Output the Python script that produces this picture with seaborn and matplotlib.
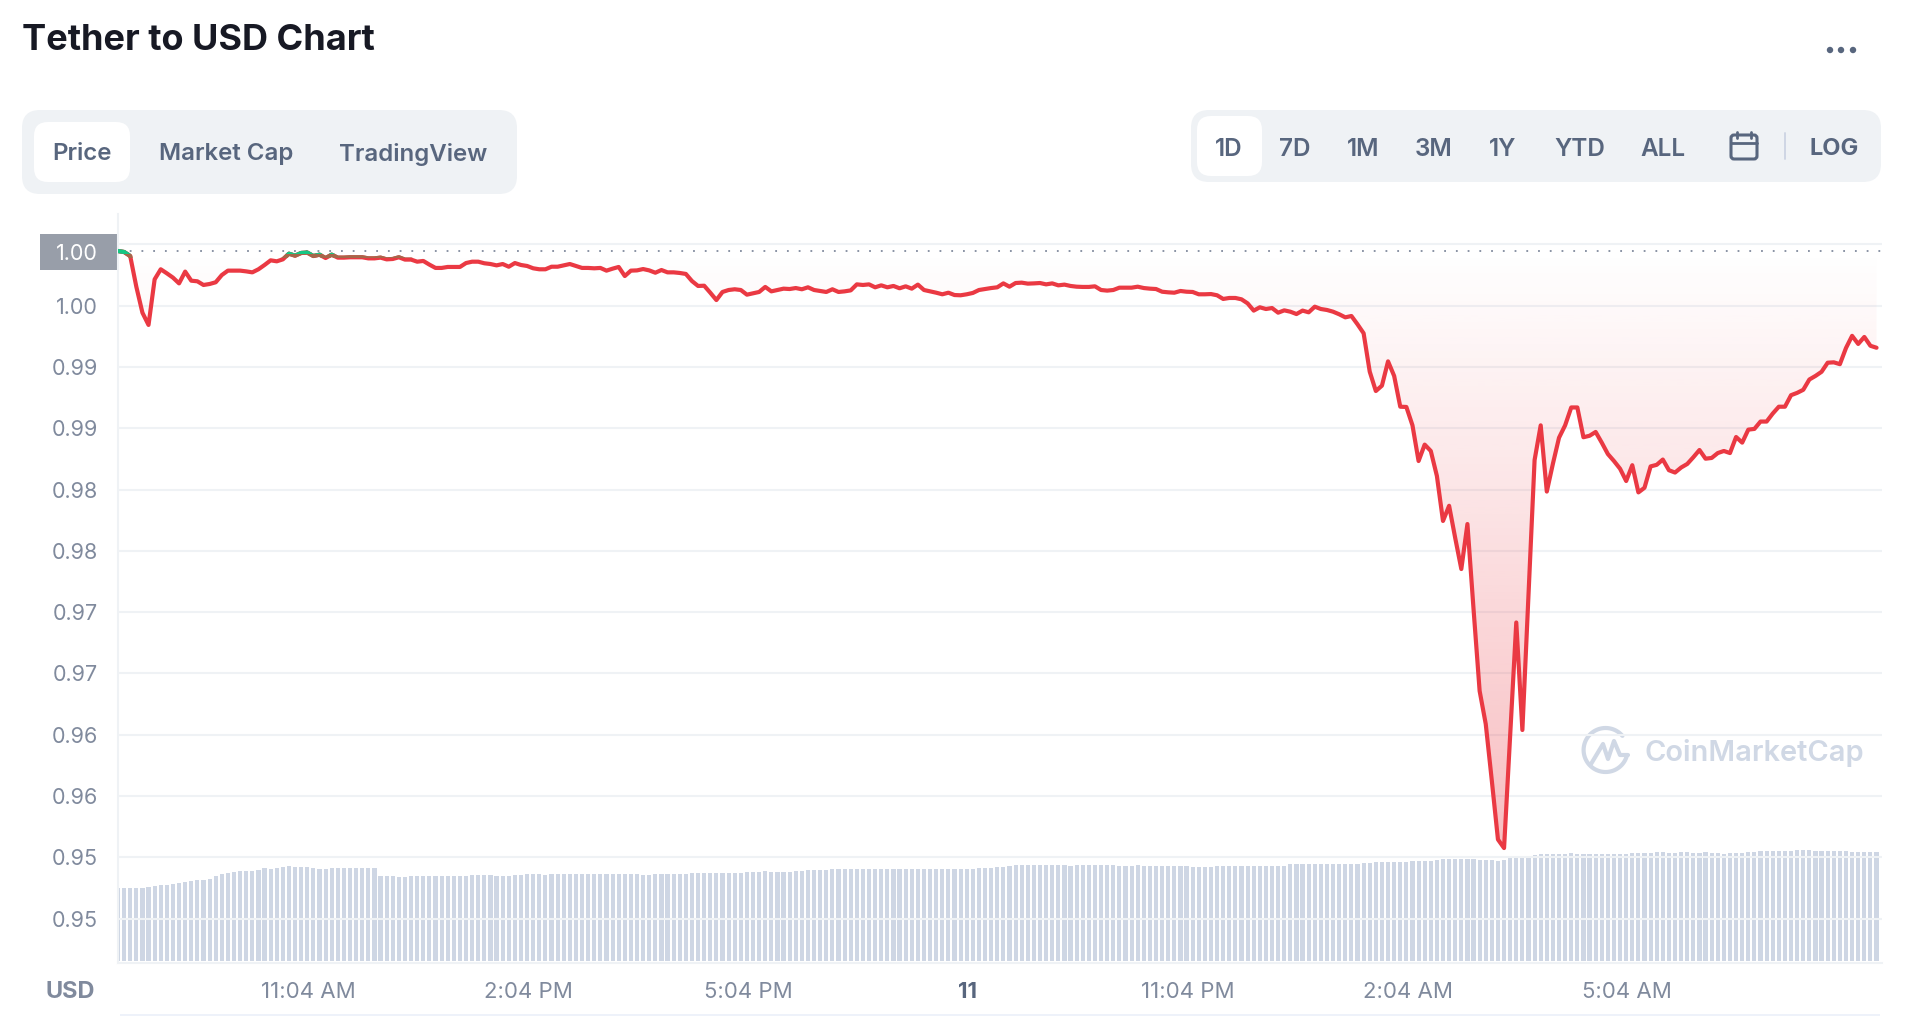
import numpy as np
import pandas as pd
import matplotlib
matplotlib.use("Agg")
import matplotlib.pyplot as plt
import seaborn as sns
from matplotlib.patches import FancyBboxPatch, Rectangle, Circle

# price, one value every 5 minutes
price = [
    0.99946, 0.99938, 0.99905, 0.99655, 0.99443, 0.99343, 0.99715, 0.99797, 0.99764, 0.99729, 0.99682, 0.99778,
    0.99704, 0.99699, 0.99669, 0.99677, 0.99691, 0.99750, 0.99786, 0.99786, 0.99786, 0.99780, 0.99772, 0.99797,
    0.99832, 0.99870, 0.99862, 0.99878, 0.99924, 0.99908, 0.99930, 0.99933, 0.99905, 0.99916, 0.99889, 0.99916,
    0.99892, 0.99892, 0.99895, 0.99895, 0.99895, 0.99886, 0.99886, 0.99892, 0.99878, 0.99881, 0.99895, 0.99876,
    0.99876, 0.99859, 0.99865, 0.99835, 0.99808, 0.99808, 0.99816, 0.99816, 0.99816, 0.99848, 0.99859, 0.99859,
    0.99846, 0.99840, 0.99829, 0.99840, 0.99818, 0.99848, 0.99832, 0.99824, 0.99805, 0.99797, 0.99797, 0.99818,
    0.99818, 0.99829, 0.99840, 0.99824, 0.99808, 0.99808, 0.99805, 0.99808, 0.99786, 0.99802, 0.99816, 0.99742,
    0.99786, 0.99788, 0.99799, 0.99788, 0.99769, 0.99791, 0.99772, 0.99772, 0.99767, 0.99759, 0.99701, 0.99661,
    0.99663, 0.99606, 0.99546, 0.99612, 0.99628, 0.99634, 0.99628, 0.99590, 0.99601, 0.99612, 0.99653, 0.99617,
    0.99628, 0.99639, 0.99636, 0.99644, 0.99634, 0.99650, 0.99628, 0.99620, 0.99612, 0.99634, 0.99612, 0.99617,
    0.99625, 0.99674, 0.99669, 0.99674, 0.99650, 0.99666, 0.99650, 0.99661, 0.99642, 0.99658, 0.99639, 0.99672,
    0.99628, 0.99617, 0.99606, 0.99593, 0.99606, 0.99587, 0.99585, 0.99593, 0.99604, 0.99628, 0.99636, 0.99644,
    0.99650, 0.99682, 0.99655, 0.99685, 0.99688, 0.99680, 0.99682, 0.99685, 0.99674, 0.99682, 0.99666, 0.99672,
    0.99661, 0.99655, 0.99653, 0.99653, 0.99658, 0.99628, 0.99623, 0.99628, 0.99647, 0.99647, 0.99647, 0.99655,
    0.99644, 0.99639, 0.99636, 0.99614, 0.99609, 0.99606, 0.99620, 0.99614, 0.99612, 0.99593, 0.99593, 0.99595,
    0.99585, 0.99555, 0.99563, 0.99563, 0.99552, 0.99519, 0.99460, 0.99487, 0.99473, 0.99481, 0.99443, 0.99462,
    0.99451, 0.99432, 0.99460, 0.99446, 0.99492, 0.99473, 0.99465, 0.99451, 0.99430, 0.99405, 0.99416, 0.99348,
    0.99275, 0.98962, 0.98804, 0.98848, 0.99046, 0.98927, 0.98676, 0.98674, 0.98524, 0.98233, 0.98367, 0.98315,
    0.98111, 0.97744, 0.97868, 0.97605, 0.97352, 0.97719, 0.97026, 0.96357, 0.96088, 0.95623, 0.95146, 0.95076,
    0.95998, 0.96916, 0.96039, 0.97140, 0.98241, 0.98524, 0.97984, 0.98211, 0.98423, 0.98524, 0.98670, 0.98670,
    0.98427, 0.98439, 0.98470, 0.98383, 0.98290, 0.98233, 0.98170, 0.98070, 0.98199, 0.97977, 0.98015, 0.98189,
    0.98202, 0.98245, 0.98158, 0.98139, 0.98180, 0.98209, 0.98264, 0.98323, 0.98252, 0.98258, 0.98298, 0.98315,
    0.98298, 0.98429, 0.98383, 0.98489, 0.98495, 0.98555, 0.98555, 0.98620, 0.98676, 0.98676, 0.98770, 0.98789,
    0.98814, 0.98898, 0.98927, 0.98961, 0.99035, 0.99038, 0.99023, 0.99155, 0.99254, 0.99188, 0.99245, 0.99173,
    0.99157,
]

# volume bars, relative units (axis has no scale in the picture)
volume = [
    73, 73, 73, 73, 73, 74, 75, 76, 76, 77, 78, 79, 80, 81, 81, 82, 85, 87, 88, 89, 90, 90, 90, 91,
    93, 92, 93, 94, 95, 94, 94, 94, 93, 92, 92, 93, 93, 93, 93, 93, 93, 93, 93, 85, 85, 85, 84, 84,
    85, 85, 85, 85, 85, 85, 85, 85, 85, 85, 86, 86, 86, 86, 85, 85, 85, 86, 86, 87, 87, 87, 86, 87,
    87, 87, 87, 87, 87, 87, 87, 87, 87, 87, 87, 87, 87, 87, 86, 86, 87, 87, 87, 87, 87, 87, 88, 88,
    88, 88, 88, 88, 88, 88, 88, 89, 89, 89, 90, 89, 89, 89, 89, 90, 90, 91, 91, 91, 91, 92, 92, 92,
    92, 92, 92, 92, 92, 92, 92, 92, 92, 92, 92, 92, 92, 92, 92, 92, 92, 92, 92, 92, 92, 93, 93, 93,
    94, 94, 95, 96, 96, 96, 96, 96, 96, 96, 96, 96, 95, 96, 96, 96, 96, 96, 96, 96, 95, 95, 95, 96,
    95, 95, 95, 95, 95, 95, 95, 95, 94, 94, 94, 94, 95, 95, 95, 95, 95, 95, 95, 95, 95, 95, 95, 95,
    97, 97, 97, 97, 97, 97, 97, 97, 97, 97, 97, 97, 98, 98, 99, 99, 99, 99, 99, 99, 100, 100, 100, 100,
    101, 102, 102, 102, 102, 102, 102, 101, 101, 101, 100, 101, 104, 105, 105, 105, 106, 107, 107, 107, 107, 107,
    108, 107, 107, 107, 107, 107, 107, 107, 107, 107, 108, 108, 108, 108, 109, 109, 108, 108, 109, 109, 108, 108,
    109, 108, 108, 107, 108, 108, 108, 109, 109, 110, 110, 110, 110, 110, 110, 111, 111, 111, 110, 110, 110, 110,
    110, 110, 109, 109, 109, 109, 109,
]

open_price = 0.99949
y_ticks = [1.0, 0.995, 0.99, 0.985, 0.98, 0.975, 0.97, 0.965, 0.96, 0.955, 0.95, 0.945]
y_labels = ["", "1.00", "0.99", "0.99", "0.98", "0.98", "0.97", "0.97", "0.96", "0.96", "0.95", "0.95"]
x_ticks = [156, 336, 516, 696, 876, 1056, 1236]  # minutes after the first sample
x_labels = ["11:04 AM", "2:04 PM", "5:04 PM", "11", "11:04 PM", "2:04 AM", "5:04 AM"]
range_labels = ["1D", "7D", "1M", "3M", "1Y", "YTD", "ALL"]
tab_labels = ["Price", "Market Cap", "TradingView"]

minutes = np.arange(len(price)) * 5
df = pd.DataFrame({"minutes": minutes, "price": price, "volume": volume})

# colours
RED = "#ea3943"
GREEN = "#16c784"
GRID = "#eff2f5"
AXIS_TEXT = "#808a9d"
BTN_TEXT = "#58667e"
PANEL = "#eff2f5"
MARK = "#d0d8e5"

sns.set_theme(style="white")
plt.rcParams["font.family"] = ["Inter", "DejaVu Sans"]

W, H = 1912, 1016
fig = plt.figure(figsize=(W / 100, H / 100), dpi=100, facecolor="white")

# page furniture, drawn in pixels
bg = fig.add_axes([0, 0, 1, 1], zorder=0)
bg.set_xlim(0, W)
bg.set_ylim(H, 0)
bg.axis("off")


def box(x0, y0, x1, y1, color, r):
    bg.add_patch(FancyBboxPatch((x0, y0), x1 - x0, y1 - y0, boxstyle=f"round,pad=0,rounding_size={r}",
                                fc=color, ec="none"))


bg.text(22, 40, "Tether to USD Chart", fontsize=26, fontweight="bold", color="#171924", va="center")

box(22, 110, 517, 194, PANEL, 18)
box(34, 122, 130, 182, "white", 14)
for label, cx in zip(tab_labels, [82, 226, 413]):
    bg.text(cx, 154, label, fontsize=17.3, fontweight="semibold", color=BTN_TEXT, ha="center", va="center")

box(1191, 110, 1881, 182, PANEL, 18)
box(1197, 116, 1262, 176, "white", 14)
for label, cx in zip(range_labels, [1229, 1295, 1363, 1434, 1503, 1580, 1663]):
    bg.text(cx, 149, label, fontsize=17.5, fontweight="semibold", color=BTN_TEXT, ha="center", va="center")
bg.text(1834, 149, "LOG", fontsize=17, fontweight="bold", color=BTN_TEXT, ha="center", va="center")
bg.plot([1785, 1785], [133, 159], color="#cfd6e4", lw=1.4)

# calendar icon
bg.add_patch(FancyBboxPatch((1731, 135), 26, 24, boxstyle="round,pad=0,rounding_size=3",
                            fc="none", ec=BTN_TEXT, lw=2.2))
bg.plot([1731, 1757], [143, 143], color=BTN_TEXT, lw=2)
for cx in [1737, 1751]:
    bg.plot([cx, cx], [132, 138], color=BTN_TEXT, lw=2, solid_capstyle="round")

for cx in [1830, 1841, 1853]:
    bg.add_patch(Circle((cx, 50), 3.2, fc=BTN_TEXT, ec="none"))

# price badge
bg.add_patch(Rectangle((40, 234), 78, 36, fc="#989ea9", ec="none"))
bg.text(77, 254, "1.00", fontsize=15.5, color="white", ha="center", va="center")

bg.text(70, 992, "USD", fontsize=17, fontweight="bold", color=AXIS_TEXT, ha="center", va="center")
bg.add_patch(Rectangle((120, 1014), 1760, 2, fc="#eef2fa", ec="none"))

# watermark
t = np.radians(np.linspace(40, 345, 80))
bg.plot(1605.6 + 22 * np.cos(t), 750 - 22 * np.sin(t), color=MARK, lw=3, solid_capstyle="round")
bg.plot([1591, 1603, 1608, 1614, 1620, 1628], [764, 744, 759, 741, 755, 755], color=MARK, lw=3,
        solid_joinstyle="round", solid_capstyle="round")
bg.text(1645, 753, "CoinMarketCap", fontsize=20.9, fontweight="semibold", color=MARK, va="center")

# chart area
left, right, top, bottom = 118, 1881.6, 214, 962.7
rect = [left / W, 1 - bottom / H, (right - left) / W, (bottom - top) / H]

ax = fig.add_axes(rect, zorder=3)
ax.patch.set_visible(False)
ax_vol = ax.twinx()
ax_vol.set_zorder(2)
ax.set_zorder(3)

sns.barplot(data=df, x="minutes", y="volume", native_scale=True, width=0.68, color="#ced6e4",
            saturation=1, linewidth=0, edgecolor="none", ax=ax_vol)

# gradient between the line and the opening price
poly = ax.fill_between(minutes, price, open_price, where=np.array(price) <= open_price, fc="none", ec="none")
rgba = np.zeros((256, 1, 4))
rgba[..., :3] = matplotlib.colors.to_rgb(RED)
rgba[:, 0, 3] = np.linspace(0, 0.33, 256)
grad = ax.imshow(rgba, extent=(0, minutes[-1], 0.9506, open_price), aspect="auto", origin="upper", zorder=1)
grad.set_clip_path(poly.get_paths()[0], transform=ax.transData)

sns.lineplot(data=df, x="minutes", y="price", color=RED, linewidth=3, errorbar=None, ax=ax, zorder=4)

# line turns green above the open, with a short brown blend
for floor, col in [(0.99885, "#a5674a"), (0.99922, GREEN)]:
    before = len(ax.lines)
    sns.lineplot(data=df, x="minutes", y="price", color=col, linewidth=3, errorbar=None, ax=ax, zorder=5)
    clip = Rectangle((0, floor), 1445, 0.01, transform=ax.transData)
    ax.lines[before].set_clip_path(clip)

ax.axhline(open_price, color=AXIS_TEXT, lw=1.3, ls=(0, (1, 5.5)), zorder=3)

ax.set_xlim(0, (right - left) / 6.106 * 5)
ax.set_ylim(1 - (bottom - 244.4) * 8.157e-5, 1 + (244.4 - top) * 8.157e-5)
ax_vol.set_ylim(-1.7, bottom - top - 1.7)
ax_vol.set_yticks([])
ax_vol.set_ylabel("")
ax_vol.set_xlabel("")
for s in ax_vol.spines.values():
    s.set_visible(False)

ax.set_yticks(y_ticks, y_labels)
ax.set_xticks(x_ticks, x_labels)
ax.set_xlabel("")
ax.set_ylabel("")
ax.grid(axis="y", color=GRID, lw=1.5, zorder=0)
ax.set_axisbelow(True)
ax.tick_params(axis="y", length=0, pad=14.5, labelsize=15.5, labelcolor=AXIS_TEXT)
ax.tick_params(axis="x", length=4.5, width=1.1, color=AXIS_TEXT, pad=9.5, labelsize=16, labelcolor=AXIS_TEXT)
for lab in ax.get_xticklabels():
    if lab.get_text() == "11":
        lab.set_fontweight("bold")
        lab.set_color(BTN_TEXT)

for side in ["top", "right"]:
    ax.spines[side].set_visible(False)
for side in ["left", "bottom"]:
    ax.spines[side].set_color(GRID)
    ax.spines[side].set_linewidth(1.5)

fig.savefig("out.png", dpi=100)
